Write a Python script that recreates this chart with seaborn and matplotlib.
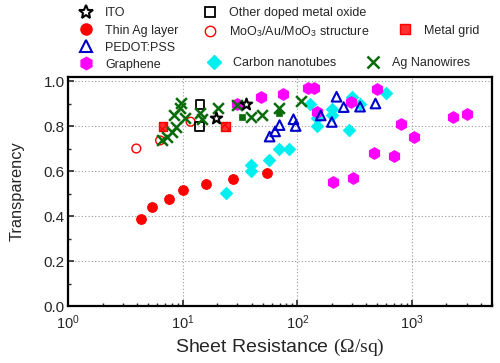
import numpy as np
import pandas as pd
import matplotlib
matplotlib.use("Agg")
import matplotlib.pyplot as plt
from matplotlib.lines import Line2D
import seaborn as sns

# ---------------- data (sheet resistance in ohm/sq, transparency) ----------------
ito_r = [19.7, 35.4]
ito_t = [0.836, 0.898]

thin_ag_r = [4.30, 5.43, 7.55, 10.1, 16.0, 27.2, 54.5]
thin_ag_t = [0.388, 0.439, 0.477, 0.516, 0.544, 0.563, 0.593]

pedot_r = [57.3, 64.0, 70.0, 92.5, 96.7, 160, 200, 220, 254, 353, 481]
pedot_t = [0.753, 0.776, 0.804, 0.830, 0.800, 0.847, 0.818, 0.930, 0.884, 0.886, 0.900]

graphene_r = [29.6, 47.8, 74.7, 123, 139, 150, 297, 501, 807, 1047, 2295, 3022, 203, 309, 469, 703]
graphene_t = [0.896, 0.929, 0.944, 0.969, 0.969, 0.864, 0.907, 0.964, 0.810, 0.749, 0.838, 0.852,
              0.552, 0.571, 0.678, 0.668]

oxide_r = [14.1, 14.0]
oxide_t = [0.896, 0.799]

moo3_r = [3.93, 6.34, 11.7]
moo3_t = [0.700, 0.736, 0.819]

grid_r = [6.73, 23.5]
grid_t = [0.797, 0.797]

cnt_r = [23.7, 39.3, 39.3, 56.7, 68.7, 85.3, 128, 148, 149, 199, 199, 285, 302, 350, 597]
cnt_t = [0.501, 0.627, 0.598, 0.649, 0.698, 0.698, 0.896, 0.834, 0.800, 0.876, 0.847, 0.782,
         0.930, 0.898, 0.948]

agnw_r = [9.66, 9.47, 8.39, 10.5, 8.74, 8.07, 7.29, 6.59, 14.2, 14.7, 20.5, 29.6, 39.1, 49.3, 69.8, 107]
agnw_t = [0.904, 0.882, 0.849, 0.836, 0.796, 0.773, 0.751, 0.736, 0.858, 0.833, 0.879, 0.893,
          0.842, 0.847, 0.879, 0.912]

agsq_r = [32.9, 69.8]
agsq_t = [0.838, 0.858]

x_ticks = [1, 10, 100, 1000]
x_tick_labels = [r"$\mathsf{10^{0}}$", r"$\mathsf{10^{1}}$", r"$\mathsf{10^{2}}$", r"$\mathsf{10^{3}}$"]
y_ticks = [0.0, 0.2, 0.4, 0.6, 0.8, 1.0]
y_tick_labels = ["0.0", "0.2", "0.4", "0.6", "0.8", "1.0"]

# ---------------- style ----------------
sns.set_style("white")
plt.rcParams["font.family"] = ["Liberation Sans", "DejaVu Sans"]
plt.rcParams["mathtext.fontset"] = "custom"
plt.rcParams["mathtext.rm"] = "Liberation Serif"
plt.rcParams["mathtext.it"] = "Liberation Serif:italic"
plt.rcParams["mathtext.sf"] = "Liberation Sans"

fig = plt.figure(figsize=(5.0, 3.63), dpi=100)
ax = fig.add_axes([0.1364, 0.157, 0.848, 0.631])

def sc(x, y, **kw):
    df = pd.DataFrame({"r": x, "t": y})
    return sns.scatterplot(data=df, x="r", y="t", ax=ax, legend=False, **kw)

S = 48
sc(thin_ag_r, thin_ag_t, marker="o", s=S, color="#ff0000", edgecolor="#ff0000", linewidth=0.8)
sc(cnt_r, cnt_t, marker="D", s=38, color="#00f0f0", edgecolor="#00f0f0", linewidth=0.8)
sc(graphene_r, graphene_t, marker="h", s=70, color="#ff00ff", edgecolor="#ff00ff", linewidth=0.8)
sc(pedot_r, pedot_t, marker="^", s=48, facecolor="none", edgecolor="#0000cc", linewidth=1.5)
sc(moo3_r, moo3_t, marker="o", s=40, facecolor="none", edgecolor="#ff0000", linewidth=1.0)
sc(grid_r, grid_t, marker="s", s=40, facecolor="#ff3030", edgecolor="#ff0000", linewidth=1.0, hatch="xxxx")
sc(oxide_r, oxide_t, marker="s", s=38, facecolor="none", edgecolor="black", linewidth=1.3)
sc(agnw_r, agnw_t, marker="x", s=60, color="#0a6b0a", linewidth=1.8)
sc(agsq_r, agsq_t, marker="s", s=14, color="#0a6b0a", edgecolor="#0a6b0a", linewidth=0.5)
sc(ito_r, ito_t, marker="*", s=75, facecolor="white", edgecolor="black", linewidth=1.5)

ax.set_xscale("log")
ax.set_xlim(1, 5025)
ax.set_ylim(0, 1.018)
ax.set_xticks(x_ticks)
ax.set_xticklabels(x_tick_labels, fontsize=10.5)
ax.set_yticks(y_ticks)
ax.set_yticklabels(y_tick_labels, fontsize=11)
ax.yaxis.set_minor_locator(matplotlib.ticker.MultipleLocator(0.1))
ax.xaxis.set_minor_locator(matplotlib.ticker.LogLocator(base=10, subs=np.arange(2, 10)))
ax.xaxis.set_minor_formatter(matplotlib.ticker.NullFormatter())
ax.tick_params(axis="x", which="major", pad=5.5)
ax.tick_params(axis="y", which="major", pad=2.5)
ax.tick_params(axis="both", which="major", direction="in", length=4, width=1.2,
               bottom=True, left=True, top=False, right=False)
ax.tick_params(axis="both", which="minor", direction="in", length=2.5, width=1.0,
               bottom=True, left=True, top=False, right=False)
ax.grid(True, which="major", linestyle=(0, (1, 2)), color="#999999", linewidth=0.8)
for sp in ax.spines.values():
    sp.set_linewidth(1.6)
    sp.set_color("black")

ax.set_xlabel(r"Sheet Resistance $(\Omega/\mathrm{sq})$", fontsize=14, labelpad=3)
ax.set_ylabel("Transparency", fontsize=11.8, labelpad=14)

# ---------------- legend ----------------
def h(marker, ms, fc, ec, mew=1.0, **kw):
    return Line2D([], [], linestyle="none", marker=marker, markersize=ms,
                  markerfacecolor=fc, markeredgecolor=ec, markeredgewidth=mew, **kw)

blank = Line2D([], [], linestyle="none", marker="none")

legend_kw = dict(frameon=False, fontsize=9, handlelength=1.0, handletextpad=1.05,
                 labelspacing=0.41, borderpad=0.1, borderaxespad=0.0, loc="upper left")

groups = [
    ([(h("*", 10.5, "white", "black", 1.5), "ITO"),
      (h("o", 8, "#ff0000", "#ff0000"), "Thin Ag layer"),
      (h("^", 8, "none", "#0000cc", 1.5), "PEDOT:PSS"),
      (h("h", 9, "#ff00ff", "#ff00ff"), "Graphene")], (0.156, 0.983)),
    ([(h("s", 7, "none", "black", 1.3), "Other doped metal oxide"),
      (h("o", 7.5, "none", "#ff0000", 1.0), r"MoO$_{\mathsf{3}}$/Au/MoO$_{\mathsf{3}}$ structure")],
     (0.404, 0.983)),
    ([(blank, " "),
      (h("s", 7, "#ff3030", "#ff0000", 1.0), "Metal grid")], (0.795, 0.983)),
    ([(h("D", 7, "#00f0f0", "#00f0f0"), "Carbon nanotubes")], (0.412, 0.846)),
    ([(h("x", 9, "#0a6b0a", "#0a6b0a", 1.8), "Ag Nanowires")], (0.731, 0.846)),
]
for items, anchor in groups:
    fig.legend([c[0] for c in items], [c[1] for c in items],
               bbox_to_anchor=anchor, **legend_kw)

fig.savefig("out.png", dpi=100)
